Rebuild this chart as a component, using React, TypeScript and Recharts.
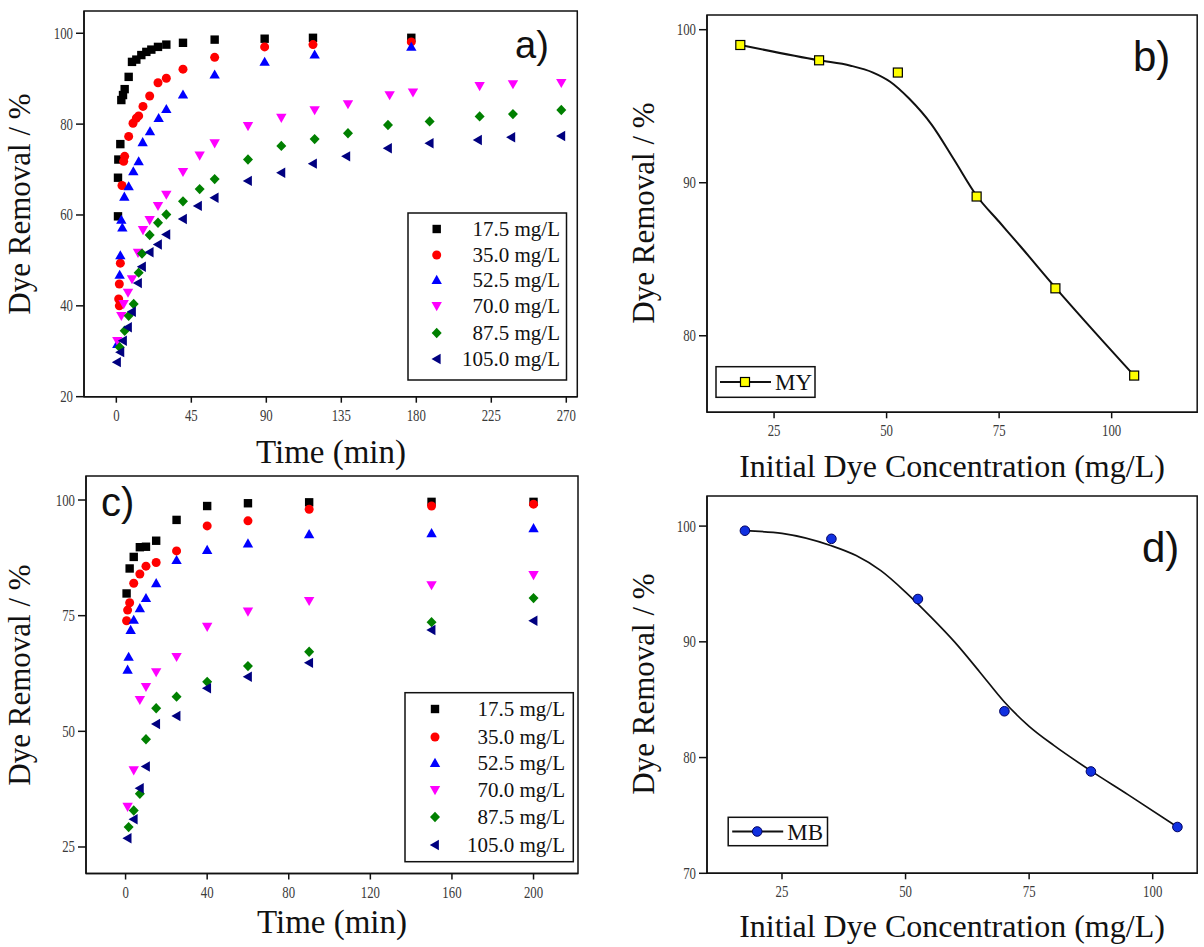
import React from 'react';
import { ScatterChart, ComposedChart, Scatter, Line, XAxis, YAxis, ReferenceArea } from 'recharts';

type Pt = [number, number];

const SERIF = '"Liberation Serif", "Times New Roman", serif';
const SANS = '"Liberation Sans", Arial, sans-serif';
const INK = '#111';

// legend entries shared by the two kinetics plots
const concLabels = ['17.5 mg/L', '35.0 mg/L', '52.5 mg/L', '70.0 mg/L', '87.5 mg/L', '105.0 mg/L'];
const seriesColors = ['#000000', '#ff0000', '#0000ff', '#ff00ff', '#008000', '#000080'];
const seriesShapes = ['square', 'circle', 'up', 'down', 'diamond', 'left'];

// (a) MY removal vs contact time, [min, %]
const my175: Pt[] = [[1, 59.7], [1, 68.2], [1.2, 72.2], [2.4, 75.6], [3, 85.3], [4, 86.4], [5, 87.7], [7.4, 90.4], [9.4, 93.7], [12, 94.2], [15, 95.2], [18, 95.9], [21, 96.4], [25, 97.0], [30, 97.5], [40, 97.9], [59, 98.6], [89, 98.8], [118, 99.0], [177, 99.0]];
const my350: Pt[] = [[1.4, 41.5], [1.8, 40.0], [1.8, 44.8], [2.4, 49.4], [3.4, 66.5], [4.4, 71.8], [5, 72.9], [7.4, 77.3], [10, 80.2], [12, 81.3], [13.4, 81.8], [16, 83.9], [20, 86.2], [25, 89.1], [30, 90.1], [40, 92.1], [59, 94.7], [89, 97.0], [118, 97.5], [177, 98.1]];
const my525: Pt[] = [[0.6, 31.6], [2, 46.8], [2.4, 51.1], [3, 58.9], [3.6, 57.2], [4.8, 64.0], [7.4, 66.3], [10.2, 69.6], [13.4, 71.8], [15.8, 76.0], [20.2, 78.4], [25.4, 81.3], [30, 83.3], [40, 86.5], [59, 90.9], [89, 93.7], [119, 95.3], [177, 97.0]];
const my700: Pt[] = [[0.6, 32.3], [3, 37.8], [4.4, 40.4], [7, 42.9], [9.4, 45.9], [13, 51.7], [16, 56.7], [20, 58.9], [25, 62.0], [30, 64.5], [40, 69.5], [50, 73.1], [59, 75.8], [79, 79.6], [99, 81.4], [119, 83.1], [139, 84.4], [164, 86.4], [178, 87.0], [218, 88.4], [238, 88.8], [267, 89.1]];
const my875: Pt[] = [[2, 30.9], [5, 34.5], [7.4, 37.8], [10.4, 40.4], [13.4, 47.3], [15.4, 51.5], [20, 55.6], [25, 58.3], [30, 60.1], [40, 63.0], [50, 65.7], [59, 67.9], [79, 72.2], [99, 75.2], [119, 76.7], [139, 78.0], [163, 79.8], [188, 80.6], [218, 81.7], [238, 82.2], [267, 83.1]];
const my1050: Pt[] = [[0.4, 27.6], [2.4, 29.8], [4, 32.3], [7, 35.3], [9.4, 38.7], [13, 45.0], [15.4, 48.6], [20, 51.8], [25, 53.5], [30, 55.7], [40, 59.1], [49, 62.0], [59, 63.8], [79, 67.5], [99, 69.3], [118, 71.3], [138, 72.9], [163, 74.7], [188, 75.8], [217, 76.5], [237, 77.1], [267, 77.4]];

// (c) MB removal vs contact time, [min, %]
const mb175: Pt[] = [[0.5, 79.8], [2, 85.2], [4, 87.7], [7, 89.8], [10, 89.9], [15, 91.2], [25, 95.7], [40, 98.7], [60, 99.3], [90, 99.5], [150, 99.6], [200, 99.6]];
const mb350: Pt[] = [[0.5, 73.9], [1, 76.2], [2, 77.8], [4, 82.0], [7, 84.0], [10, 85.7], [15, 86.5], [25, 89.0], [40, 94.4], [60, 95.5], [90, 98.0], [150, 98.7], [200, 99.1]];
const mb525: Pt[] = [[1, 63.3], [1.5, 66.1], [2.5, 71.9], [4, 74.1], [7, 76.6], [10, 78.8], [15, 82.0], [25, 87.0], [40, 89.2], [60, 90.6], [90, 92.6], [150, 92.8], [200, 93.9]];
const mb700: Pt[] = [[1, 33.7], [4, 41.6], [7, 56.8], [10, 59.6], [15, 62.8], [25, 66.1], [40, 72.6], [60, 75.9], [90, 78.2], [150, 81.6], [200, 83.8]];
const mb875: Pt[] = [[1.5, 29.3], [4, 32.9], [7, 36.5], [10, 48.3], [15, 55.0], [25, 57.5], [40, 60.7], [60, 64.1], [90, 67.2], [150, 73.6], [200, 78.8]];
const mb1050: Pt[] = [[1, 26.9], [4, 31.0], [7, 37.7], [10, 42.4], [15, 51.6], [25, 53.3], [40, 59.3], [60, 61.8], [90, 64.8], [150, 71.9], [200, 73.9]];

// (b) MY: removal vs initial concentration, plus the smoothed curve
const myConc = [17.5, 35, 52.5, 70, 87.5, 105];
const myRemoval = [99.0, 98.0, 97.2, 89.1, 83.1, 77.4];
const myCurveConc = [17.5, 35, 42, 47, 50.8, 55, 60, 65, 70, 75, 80, 87.5, 95, 105];
const myCurveRemoval = [99.0, 98.0, 97.65, 97.2, 96.6, 95.5, 93.8, 91.5, 89.15, 87.45, 85.75, 83.15, 80.65, 77.4];

// (d) MB: removal vs initial concentration, plus the smoothed curve
const mbConc = [17.5, 35, 52.5, 70, 87.5, 105];
const mbRemoval = [99.6, 98.9, 93.7, 84.0, 78.8, 74.0];
const mbCurveConc = [17.5, 25, 35, 40, 45, 50, 55, 60, 65, 70, 75, 80, 87.5, 95, 105];
const mbCurveRemoval = [99.6, 99.37, 98.3, 97.45, 96.15, 94.3, 92.2, 89.95, 87.4, 84.8, 82.7, 81.05, 78.85, 76.8, 74.0];

const timeTicksA = [0, 45, 90, 135, 180, 225, 270];
const removalTicksA = [20, 40, 60, 80, 100];
const timeTicksC = [0, 40, 80, 120, 160, 200];
const removalTicksC = [25, 50, 75, 100];
const concTicks = [25, 50, 75, 100];
const removalTicksB = [80, 90, 100];
const removalTicksD = [70, 80, 90, 100];

type Frame = { left: number; top: number; width: number; height: number; x: [number, number]; y: [number, number] };

const frameA: Frame = { left: 84.4, top: 11, width: 493.3, height: 385.7, x: [-19.4, 276.6], y: [20, 104.9] };
const frameB: Frame = { left: 706.8, top: 14.7, width: 490.2, height: 397.3, x: [10.1, 119], y: [75, 100.96] };
const frameC: Frame = { left: 86, top: 476, width: 492, height: 397.5, x: [-19.4, 221.8], y: [19.27, 105.19] };
const frameD: Frame = { left: 706.8, top: 496, width: 490.2, height: 377.3, x: [9.83, 109], y: [70, 102.6] };

const AXIS_W = 70;
const AXIS_H = 44;
const axisStroke = { stroke: INK, strokeWidth: 1.5 };

// narrow serif tick labels
const bottomTick = (p: any) => (
  <text
    transform={`translate(${p.x},${p.y + 12}) scale(0.8,1)`}
    textAnchor="middle"
    fontFamily={SERIF}
    fontSize={16}
    fill="#3a3a3a"
  >
    {p.payload.value}
  </text>
);
const leftTick = (p: any) => (
  <text
    transform={`translate(${p.x},${p.y + 5.5}) scale(0.8,1)`}
    textAnchor="end"
    fontFamily={SERIF}
    fontSize={16}
    fill="#3a3a3a"
  >
    {p.payload.value}
  </text>
);

function Marker({ cx, cy, shape, color }: { cx: number; cy: number; shape: string; color: string }) {
  if (cx == null || cy == null) return null;
  switch (shape) {
    case 'square':
      return <rect x={cx - 4.2} y={cy - 4.2} width={8.4} height={8.4} fill={color} />;
    case 'circle':
      return <circle cx={cx} cy={cy} r={4.5} fill={color} />;
    case 'up':
      return <polygon points={`${cx},${cy - 5.2} ${cx + 5.2},${cy + 3.9} ${cx - 5.2},${cy + 3.9}`} fill={color} />;
    case 'down':
      return <polygon points={`${cx},${cy + 5.2} ${cx + 5.2},${cy - 3.9} ${cx - 5.2},${cy - 3.9}`} fill={color} />;
    case 'diamond':
      return <polygon points={`${cx},${cy - 5.2} ${cx + 5},${cy} ${cx},${cy + 5.2} ${cx - 5},${cy}`} fill={color} />;
    default:
      return <polygon points={`${cx - 5.2},${cy} ${cx + 3.9},${cy - 5.2} ${cx + 3.9},${cy + 5.2}`} fill={color} />;
  }
}

function KineticsPanel({ frame, series, xTicks, yTicks }: { frame: Frame; series: Pt[][]; xTicks: number[]; yTicks: number[] }) {
  return (
    <div style={{ position: 'absolute', left: frame.left - AXIS_W, top: frame.top - 2 }}>
      <ScatterChart
        width={AXIS_W + frame.width + 2}
        height={frame.height + AXIS_H + 2}
        margin={{ top: 2, right: 2, bottom: 0, left: 0 }}
      >
        <XAxis
          type="number"
          dataKey="t"
          domain={frame.x}
          ticks={xTicks}
          interval={0}
          allowDataOverflow
          height={AXIS_H}
          tickSize={6}
          tickMargin={6}
          axisLine={axisStroke}
          tickLine={axisStroke}
          tick={bottomTick}
        />
        <YAxis
          type="number"
          dataKey="r"
          domain={frame.y}
          ticks={yTicks}
          interval={0}
          allowDataOverflow
          width={AXIS_W}
          tickSize={8}
          tickMargin={3}
          axisLine={axisStroke}
          tickLine={axisStroke}
          tick={leftTick}
        />
        <ReferenceArea x1={frame.x[0]} x2={frame.x[1]} y1={frame.y[0]} y2={frame.y[1]} fill="none" stroke={INK} strokeWidth={1.5} />
        {series.map((pts, i) => (
          <Scatter
            key={concLabels[i]}
            name={concLabels[i]}
            data={pts.map(([t, r]) => ({ t, r }))}
            isAnimationActive={false}
            shape={(p: any) => <Marker cx={p.cx} cy={p.cy} shape={seriesShapes[i]} color={seriesColors[i]} />}
          />
        ))}
      </ScatterChart>
    </div>
  );
}

function IsothermPanel({
  frame,
  conc,
  removal,
  curveConc,
  curveRemoval,
  yTicks,
  dot,
  lineWidth,
}: {
  frame: Frame;
  conc: number[];
  removal: number[];
  curveConc: number[];
  curveRemoval: number[];
  yTicks: number[];
  dot: (cx: number, cy: number) => React.ReactElement;
  lineWidth: number;
}) {
  const points = conc.map((c, i) => ({ c, r: removal[i] }));
  const curve = curveConc.map((c, i) => ({ c, r: curveRemoval[i] }));
  return (
    <div style={{ position: 'absolute', left: frame.left - AXIS_W, top: frame.top - 2 }}>
      <ComposedChart
        width={AXIS_W + frame.width + 2}
        height={frame.height + AXIS_H + 2}
        margin={{ top: 2, right: 2, bottom: 0, left: 0 }}
      >
        <XAxis
          type="number"
          dataKey="c"
          domain={frame.x}
          ticks={concTicks}
          interval={0}
          allowDataOverflow
          height={AXIS_H}
          tickSize={6}
          tickMargin={6}
          axisLine={axisStroke}
          tickLine={axisStroke}
          tick={bottomTick}
        />
        <YAxis
          type="number"
          dataKey="r"
          domain={frame.y}
          ticks={yTicks}
          interval={0}
          allowDataOverflow
          width={AXIS_W}
          tickSize={8}
          tickMargin={3}
          axisLine={axisStroke}
          tickLine={axisStroke}
          tick={leftTick}
        />
        <ReferenceArea x1={frame.x[0]} x2={frame.x[1]} y1={frame.y[0]} y2={frame.y[1]} fill="none" stroke={INK} strokeWidth={1.5} />
        <Line data={curve} dataKey="r" type="monotone" stroke={INK} strokeWidth={lineWidth} dot={false} isAnimationActive={false} />
        <Scatter data={points} dataKey="r" isAnimationActive={false} shape={(p: any) => dot(p.cx, p.cy)} />
      </ComposedChart>
    </div>
  );
}

const yellowSquare = (cx: number, cy: number) => (
  <rect x={cx - 4.5} y={cy - 4.5} width={9} height={9} fill="#ffff00" stroke="#000" strokeWidth={1.2} />
);
const blueDot = (cx: number, cy: number) => (
  <circle cx={cx} cy={cy} r={4.8} fill="#1030e0" stroke="#000060" strokeWidth={1} />
);

function ConcLegend({ x, y, w, h, rows, markerX, textX }: { x: number; y: number; w: number; h: number; rows: number[]; markerX: number; textX: number }) {
  return (
    <g>
      <rect x={x} y={y} width={w} height={h} fill="#fff" stroke={INK} strokeWidth={1.5} />
      {concLabels.map((label, i) => (
        <g key={label}>
          <Marker cx={markerX} cy={rows[i]} shape={seriesShapes[i]} color={seriesColors[i]} />
          <text x={textX} y={rows[i] + 7} textAnchor="end" fontFamily={SERIF} fontSize={21} fill={INK}>
            {label}
          </text>
        </g>
      ))}
    </g>
  );
}

function LineLegend({ x, y, w, h, label, dot }: { x: number; y: number; w: number; h: number; label: string; dot: (cx: number, cy: number) => React.ReactElement }) {
  const cy = y + h / 2;
  return (
    <g>
      <rect x={x} y={y} width={w} height={h} fill="#fff" stroke={INK} strokeWidth={1.5} />
      <line x1={x + 4} x2={x + 55} y1={cy} y2={cy} stroke={INK} strokeWidth={1.8} />
      {dot(x + 29, cy)}
      <text x={x + 59} y={cy + 8} fontFamily={SERIF} fontSize={23} fill={INK}>
        {label}
      </text>
    </g>
  );
}

export default function App() {
  const yTitle = (cx: number, cy: number) => (
    <text transform={`translate(${cx},${cy}) rotate(-90)`} textAnchor="middle" fontFamily={SERIF} fontSize={31} fill={INK}>
      Dye Removal / %
    </text>
  );
  return (
    <div style={{ position: 'absolute', left: 0, top: 0, width: 1204, height: 947, background: '#fff' }}>
      <KineticsPanel frame={frameA} series={[my175, my350, my525, my700, my875, my1050]} xTicks={timeTicksA} yTicks={removalTicksA} />
      <KineticsPanel frame={frameC} series={[mb175, mb350, mb525, mb700, mb875, mb1050]} xTicks={timeTicksC} yTicks={removalTicksC} />
      <IsothermPanel frame={frameB} conc={myConc} removal={myRemoval} curveConc={myCurveConc} curveRemoval={myCurveRemoval} yTicks={removalTicksB} dot={yellowSquare} lineWidth={2} />
      <IsothermPanel frame={frameD} conc={mbConc} removal={mbRemoval} curveConc={mbCurveConc} curveRemoval={mbCurveRemoval} yTicks={removalTicksD} dot={blueDot} lineWidth={1.7} />

      <svg width={1204} height={947} style={{ position: 'absolute', left: 0, top: 0, pointerEvents: 'none' }}>
        <text x={515} y={58} fontFamily={SANS} fontSize={38} fill={INK}>a)</text>
        <text x={1133} y={71} fontFamily={SANS} fontSize={42} fill={INK}>b)</text>
        <text x={101} y={516} fontFamily={SANS} fontSize={40} fill={INK}>c)</text>
        <text x={1142} y={562} fontFamily={SANS} fontSize={42} fill={INK}>d)</text>

        {yTitle(30, 204)}
        {yTitle(30, 675)}
        {yTitle(654, 213)}
        {yTitle(654, 684)}

        <text x={331} y={463} textAnchor="middle" fontFamily={SERIF} fontSize={33} fill={INK}>Time (min)</text>
        <text x={332} y={933} textAnchor="middle" fontFamily={SERIF} fontSize={33} fill={INK}>Time (min)</text>
        <text x={952} y={477} textAnchor="middle" fontFamily={SERIF} fontSize={32} fill={INK}>Initial Dye Concentration (mg/L)</text>
        <text x={952} y={937} textAnchor="middle" fontFamily={SERIF} fontSize={32} fill={INK}>Initial Dye Concentration (mg/L)</text>

        <ConcLegend x={408} y={213} w={158.5} h={167} rows={[229, 255, 280, 306, 333, 359]} markerX={436.7} textX={560} />
        <ConcLegend x={405} y={692.7} w={168.3} h={169} rows={[709, 737, 763, 790, 817, 845]} markerX={435} textX={565} />
        <LineLegend x={716} y={366.7} w={99} h={30.6} label="MY" dot={yellowSquare} />
        <LineLegend x={728.2} y={817.3} w={99.3} h={28.4} label="MB" dot={blueDot} />
      </svg>
    </div>
  );
}
